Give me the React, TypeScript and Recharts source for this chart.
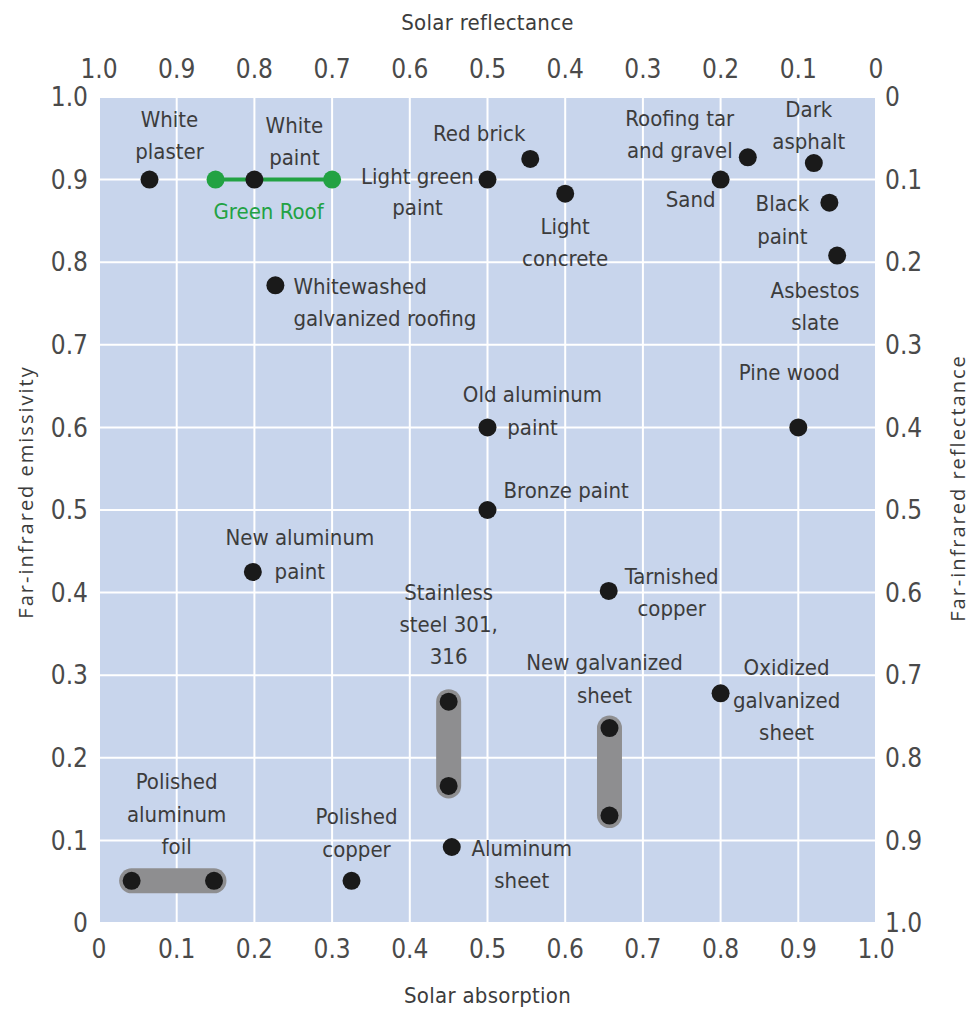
import React from 'react';
import { ScatterChart, Scatter, XAxis, YAxis, CartesianGrid } from 'recharts';

// single materials: solar absorption (x) vs far-infrared emissivity (y)
const materials = [
  'White plaster', 'White paint', 'Light green paint', 'Red brick', 'Light concrete',
  'Roofing tar and gravel', 'Sand', 'Dark asphalt', 'Black paint', 'Asbestos slate',
  'Whitewashed galvanized roofing', 'Pine wood', 'Old aluminum paint', 'Bronze paint',
  'New aluminum paint', 'Tarnished copper', 'Oxidized galvanized sheet', 'Aluminum sheet',
  'Polished copper',
];
const absorption = [0.065, 0.2, 0.5, 0.555, 0.6, 0.835, 0.8, 0.92, 0.94, 0.95, 0.227, 0.9, 0.5, 0.5, 0.198, 0.656, 0.8, 0.454, 0.325];
const emissivity = [0.9, 0.9, 0.9, 0.925, 0.883, 0.927, 0.9, 0.92, 0.872, 0.808, 0.772, 0.6, 0.6, 0.5, 0.425, 0.402, 0.278, 0.092, 0.051];

// materials given as a range
const rangeMaterials = ['Stainless steel 301, 316', 'New galvanized sheet', 'Polished aluminum foil'];
const rangeAbsorption = [[0.45, 0.45], [0.657, 0.657], [0.042, 0.148]];
const rangeEmissivity = [[0.268, 0.166], [0.236, 0.13], [0.051, 0.051]];

const greenRoofAbsorption = [0.15, 0.3];
const greenRoofEmissivity = [0.9, 0.9];

const ticks = [0, 0.1, 0.2, 0.3, 0.4, 0.5, 0.6, 0.7, 0.8, 0.9, 1];

// label text lines
const labelText: Record<string, string[]> = {
  'White plaster': ['White', 'plaster'],
  'White paint': ['White', 'paint'],
  'Light green paint': ['Light green', 'paint'],
  'Red brick': ['Red brick'],
  'Light concrete': ['Light', 'concrete'],
  'Roofing tar and gravel': ['Roofing tar', 'and gravel'],
  'Sand': ['Sand'],
  'Dark asphalt': ['Dark', 'asphalt'],
  'Black paint': ['Black', 'paint'],
  'Asbestos slate': ['Asbestos', 'slate'],
  'Whitewashed galvanized roofing': ['Whitewashed', 'galvanized roofing'],
  'Pine wood': ['Pine wood'],
  'Old aluminum paint': ['Old aluminum', 'paint'],
  'Bronze paint': ['Bronze paint'],
  'New aluminum paint': ['New aluminum', 'paint'],
  'Tarnished copper': ['Tarnished', 'copper'],
  'Oxidized galvanized sheet': ['Oxidized', 'galvanized', 'sheet'],
  'Aluminum sheet': ['Aluminum', 'sheet'],
  'Polished copper': ['Polished', 'copper'],
  'Stainless steel 301, 316': ['Stainless', 'steel 301,', '316'],
  'New galvanized sheet': ['New galvanized', 'sheet'],
  'Polished aluminum foil': ['Polished', 'aluminum', 'foil'],
  'Green Roof': ['Green Roof'],
};

// where each label sits relative to its (first) dot, in px
const labelPlace: Record<string, { anchor: string; dx: number; dy: number[] }> = {
  'White plaster': { anchor: 'middle', dx: 20, dy: [-60, -28] },
  'White paint': { anchor: 'middle', dx: 40, dy: [-54, -22] },
  'Light green paint': { anchor: 'middle', dx: -70, dy: [-3, 28] },
  'Red brick': { anchor: 'middle', dx: -51, dy: [-25] },
  'Light concrete': { anchor: 'middle', dx: 0, dy: [33, 65] },
  'Roofing tar and gravel': { anchor: 'middle', dx: -68, dy: [-39, -7] },
  'Sand': { anchor: 'middle', dx: -30, dy: [20] },
  'Dark asphalt': { anchor: 'middle', dx: -5, dy: [-54, -22] },
  'Black paint': { anchor: 'middle', dx: -47, dy: [1, 34] },
  'Asbestos slate': { anchor: 'middle', dx: -22, dy: [35, 67] },
  'Whitewashed galvanized roofing': { anchor: 'start', dx: 18, dy: [1, 33] },
  'Pine wood': { anchor: 'middle', dx: -9, dy: [-55] },
  'Old aluminum paint': { anchor: 'middle', dx: 45, dy: [-33, 0] },
  'Bronze paint': { anchor: 'start', dx: 16, dy: [-20] },
  'New aluminum paint': { anchor: 'middle', dx: 47, dy: [-34, 0] },
  'Tarnished copper': { anchor: 'middle', dx: 63, dy: [-14, 18] },
  'Oxidized galvanized sheet': { anchor: 'middle', dx: 66, dy: [-26, 7, 39] },
  'Aluminum sheet': { anchor: 'middle', dx: 70, dy: [1, 33] },
  'Polished copper': { anchor: 'middle', dx: 5, dy: [-64, -31] },
  'Stainless steel 301, 316': { anchor: 'middle', dx: 0, dy: [-109, -77, -45] },
  'New galvanized sheet': { anchor: 'middle', dx: -5, dy: [-66, -33] },
  'Polished aluminum foil': { anchor: 'middle', dx: 45, dy: [-99, -66, -34] },
  'Green Roof': { anchor: 'middle', dx: 53, dy: [32] },
};

const FONT = '"DejaVu Sans Condensed", "DejaVu Sans", sans-serif';
const SIDE_FONT = '"Open Sans", "Liberation Sans", sans-serif';
const TEXT = '#3c3c3c';
const TICK = '#4a4a4a';
const GREEN = '#22a243';

const pointData = materials.map((name, i) => ({ name, x: absorption[i], y: emissivity[i], first: true }));
const rangeData = rangeMaterials.map((name, i) =>
  rangeAbsorption[i].map((x, j) => ({ name, x, y: rangeEmissivity[i][j], first: j === 0 }))
);
const greenRoofData = greenRoofAbsorption.map((x, j) => ({ name: 'Green Roof', x, y: greenRoofEmissivity[j], first: j === 0 }));
// reflectance = 1 - absorption / emissivity; drives the top and right axes
const reflectanceData = pointData.map((d) => ({ x: 1 - d.x, y: 1 - d.y }));

const fmt = (v: number) => (v === 0 ? '0' : v.toFixed(1));

const makeDot = (fill: string, labelColor: string) => (props: any) => {
  const { cx, cy, payload } = props;
  const place = labelPlace[payload.name];
  const lines = labelText[payload.name] || [];
  return (
    <g>
      <circle cx={cx} cy={cy} r={9} fill={fill} />
      {payload.first && place &&
        lines.map((line, k) => (
          <text
            key={k}
            x={cx + place.dx}
            y={cy + place.dy[k]}
            textAnchor={place.anchor as any}
            dominantBaseline="central"
            fontFamily={FONT}
            fontSize={22}
            fill={labelColor}
          >
            {line}
          </text>
        ))}
    </g>
  );
};

const AxisTitle = ({ viewBox, value, dx = 0, dy = 0, angle = 0, cxMode, side }: any) => {
  const vb = viewBox || {};
  let x = vb.x + vb.width / 2 + dx;
  let y = vb.y + vb.height / 2 + dy;
  if (cxMode === 'left') x = vb.x + dx;
  if (cxMode === 'right') x = vb.x + vb.width + dx;
  if (cxMode === 'top') y = vb.y + dy;
  if (cxMode === 'bottom') y = vb.y + vb.height + dy;
  return (
    <text
      x={x}
      y={y}
      textAnchor="middle"
      dominantBaseline="central"
      transform={angle ? `rotate(${angle}, ${x}, ${y})` : undefined}
      fontFamily={side ? SIDE_FONT : FONT}
      fontSize={side ? 20 : 22}
      letterSpacing={side ? 2 : 0.3}
      fill={TEXT}
    >
      {value}
    </text>
  );
};

const tickStyle = { fill: TICK, fontSize: 26, fontFamily: FONT };

export default function App() {
  return (
    <div style={{ position: 'absolute', left: 0, top: 0, width: 971, height: 1010, background: '#fff' }}>
      <ScatterChart width={971} height={1010} margin={{ top: 47, right: 35, bottom: 37, left: 39 }}>
        <CartesianGrid xAxisId="abs" yAxisId="emi" fill="#c8d5ec" stroke="#ffffff" strokeWidth={2} />
        <XAxis
          xAxisId="abs"
          dataKey="x"
          type="number"
          domain={[0, 1]}
          ticks={ticks}
          tickFormatter={fmt}
          height={50}
          axisLine={false}
          tickLine={false}
          tickSize={0}
          tickMargin={17}
          tick={tickStyle}
          label={{ content: (p: any) => <AxisTitle {...p} value="Solar absorption" cxMode="bottom" dy={22} /> }}
        />
        <XAxis
          xAxisId="refl"
          dataKey="x"
          orientation="top"
          type="number"
          domain={[0, 1]}
          reversed
          ticks={ticks}
          tickFormatter={fmt}
          height={50}
          axisLine={false}
          tickLine={false}
          tickSize={0}
          tickMargin={19}
          tick={tickStyle}
          label={{ content: (p: any) => <AxisTitle {...p} value="Solar reflectance" cxMode="top" dy={-25} /> }}
        />
        <YAxis
          yAxisId="emi"
          dataKey="y"
          type="number"
          domain={[0, 1]}
          ticks={ticks}
          tickFormatter={fmt}
          width={60}
          axisLine={false}
          tickLine={false}
          tickSize={0}
          tickMargin={11}
          tick={tickStyle}
          label={{ content: (p: any) => <AxisTitle {...p} value="Far-infrared emissivity" cxMode="left" dx={-14} dy={-18} angle={-90} side /> }}
        />
        <YAxis
          yAxisId="irRefl"
          dataKey="y"
          orientation="right"
          type="number"
          domain={[0, 1]}
          reversed
          ticks={ticks}
          tickFormatter={fmt}
          width={60}
          axisLine={false}
          tickLine={false}
          tickSize={0}
          tickMargin={9}
          tick={tickStyle}
          label={{ content: (p: any) => <AxisTitle {...p} value="Far-infrared reflectance" cxMode="right" dx={21} dy={-22} angle={-90} side /> }}
        />
        <Scatter
          xAxisId="refl"
          yAxisId="irRefl"
          data={reflectanceData}
          shape={() => <g />}
          isAnimationActive={false}
        />
        {rangeData.map((d, i) => (
          <Scatter
            key={rangeMaterials[i]}
            xAxisId="abs"
            yAxisId="emi"
            data={d}
            line={{ stroke: '#8e8e90', strokeWidth: 25, strokeLinecap: 'round' } as any}
            lineType="joint"
            shape={makeDot('#1a1a1a', TEXT)}
            isAnimationActive={false}
          />
        ))}
        <Scatter
          xAxisId="abs"
          yAxisId="emi"
          data={greenRoofData}
          line={{ stroke: GREEN, strokeWidth: 4 } as any}
          lineType="joint"
          shape={makeDot(GREEN, GREEN)}
          isAnimationActive={false}
        />
        <Scatter
          xAxisId="abs"
          yAxisId="emi"
          data={pointData}
          shape={makeDot('#1a1a1a', TEXT)}
          isAnimationActive={false}
        />
      </ScatterChart>
    </div>
  );
}
